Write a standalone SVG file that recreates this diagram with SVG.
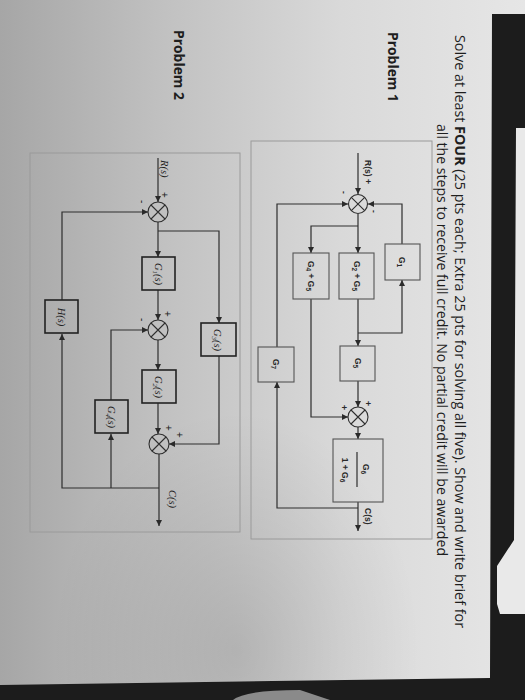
<svg xmlns="http://www.w3.org/2000/svg" width="525" height="700" viewBox="0 0 525 700">
<defs>
<linearGradient id="paper" x1="0" y1="0" x2="1" y2="0">
<stop offset="0" stop-color="#a6a6a6"/>
<stop offset="0.3" stop-color="#c0c0c0"/>
<stop offset="0.65" stop-color="#d9d9d9"/>
<stop offset="1" stop-color="#e6e6e6"/>
</linearGradient>
<radialGradient id="shade" cx="0.45" cy="0.95" r="0.35">
<stop offset="0" stop-color="#000" stop-opacity="0.12"/>
<stop offset="1" stop-color="#000" stop-opacity="0"/>
</radialGradient>
<marker id="ah" viewBox="0 0 10 10" refX="10" refY="5" markerWidth="6" markerHeight="6" markerUnits="userSpaceOnUse" orient="auto"><path d="M0,0 L10,5 L0,10 z" fill="#2a2a2a"/></marker>
<style>
.hdr{font-family:"Open Sans","DejaVu Sans",sans-serif;fill:#1e1e1e}
.frame{fill:none;stroke:#9a9a9a;stroke-width:1}
.ln{fill:none;stroke:#2e2e2e;stroke-width:1.2}
.blk1{fill:none;stroke:#555;stroke-width:1.1}
.blk2{fill:none;stroke:#222;stroke-width:1.6}
.sum{fill:none;stroke:#2e2e2e;stroke-width:1.1}
.t1{font-family:"Liberation Sans","DejaVu Sans",sans-serif;font-weight:bold;font-size:8.5px;fill:#2a2a2a}
.t2{font-family:"Liberation Serif","DejaVu Serif",serif;font-style:italic;font-size:10.5px;fill:#222}
.sg{font-family:"Liberation Sans",sans-serif;font-size:10px;fill:#222}
</style>
</defs>
<!-- background -->
<rect x="0" y="0" width="525" height="700" fill="#1c1c1c"/>
<polygon points="0,0 525,0 525,14 492,14 490,678 0,685" fill="url(#paper)"/>
<polygon points="0,0 525,0 525,14 492,14 490,678 0,685" fill="url(#shade)"/>
<polygon points="516,128 525,128 525,614 500,614 497,604 497,566 514,540" fill="#e9e9e9"/>
<path d="M233,700 Q245,690 300,690 L330,700 Z" fill="#8a8a8a"/>

<!-- header text -->
<text class="hdr" font-size="14.5" transform="translate(455,35) rotate(90)" textLength="593" lengthAdjust="spacingAndGlyphs">Solve at least <tspan font-weight="bold">FOUR</tspan> (25 pts each; Extra 25 pts for solving all five). Show and write brief for</text>
<text class="hdr" font-size="14.5" transform="translate(437,124) rotate(90)" textLength="432" lengthAdjust="spacingAndGlyphs">all the steps to receive full credit. No partial credit will be awarded</text>
<text class="hdr" font-size="15" font-weight="bold" transform="translate(388,32) rotate(90)" textLength="70" lengthAdjust="spacingAndGlyphs">Problem 1</text>
<text class="hdr" font-size="15" font-weight="bold" transform="translate(174,30) rotate(90)" textLength="70" lengthAdjust="spacingAndGlyphs">Problem 2</text>

<!-- frames -->
<rect class="frame" x="251" y="141" width="181" height="398"/>
<rect class="frame" x="30" y="153" width="210" height="379"/>

<!-- Problem 1 connectors -->
<g id="p1-connectors">
<path class="ln" d="M358,153 V194" marker-end="url(#ah)"/>
<path class="ln" d="M402,244 V204 H368" marker-end="url(#ah)"/>
<path class="ln" d="M277,347 V204 H348" marker-end="url(#ah)"/>
<path class="ln" d="M358,214 V253" marker-end="url(#ah)"/>
<path class="ln" d="M358,226 H311 V253" marker-end="url(#ah)"/>
<path class="ln" d="M358,299 V346" marker-end="url(#ah)"/>
<path class="ln" d="M358,333 H402 V280" marker-end="url(#ah)"/>
<path class="ln" d="M358,381 V407" marker-end="url(#ah)"/>
<path class="ln" d="M311,299 V417 H348" marker-end="url(#ah)"/>
<path class="ln" d="M358,427 V439" marker-end="url(#ah)"/>
<path class="ln" d="M358,502 V531" marker-end="url(#ah)"/>
<path class="ln" d="M358,508 H277 V382" marker-end="url(#ah)"/>
</g>

<!-- Problem 1 nodes -->
<g id="p1-R">
<text class="t1" transform="translate(365,160) rotate(90)">R(s) +</text>
</g>
<g id="p1-sum1">
<circle class="sum" cx="358" cy="204" r="9.5"/>
<path class="sum" d="M351.3,197.3 L364.7,210.7 M364.7,197.3 L351.3,210.7"/>
<text class="t1" transform="translate(371,210) rotate(90)">-</text>
<text class="t1" transform="translate(341,191) rotate(90)">-</text>
</g>
<g id="p1-G1">
<rect class="blk1" x="385" y="244" width="35" height="36"/>
<text class="t1" transform="translate(399,262) rotate(90)" text-anchor="middle">G<tspan font-size="6.5" dy="2.5">1</tspan></text>
</g>
<g id="p1-G2G5">
<rect class="blk1" x="339" y="253" width="35" height="46"/>
<text class="t1" transform="translate(354,276) rotate(90)" text-anchor="middle">G<tspan font-size="6.5" dy="2.5">2</tspan><tspan dy="-2.5"> + G</tspan><tspan font-size="6.5" dy="2.5">5</tspan></text>
</g>
<g id="p1-G4G5">
<rect class="blk1" x="293" y="253" width="36" height="46"/>
<text class="t1" transform="translate(308,276) rotate(90)" text-anchor="middle">G<tspan font-size="6.5" dy="2.5">4</tspan><tspan dy="-2.5"> + G</tspan><tspan font-size="6.5" dy="2.5">5</tspan></text>
</g>
<g id="p1-G5">
<rect class="blk1" x="340" y="346" width="35" height="35"/>
<text class="t1" transform="translate(355,363) rotate(90)" text-anchor="middle">G<tspan font-size="6.5" dy="2.5">5</tspan></text>
</g>
<g id="p1-G7">
<rect class="blk1" x="258" y="347" width="36" height="35"/>
<text class="t1" transform="translate(273,364) rotate(90)" text-anchor="middle">G<tspan font-size="6.5" dy="2.5">7</tspan></text>
</g>
<g id="p1-sum2">
<circle class="sum" cx="358" cy="417" r="10"/>
<path class="sum" d="M351,410 L365,424 M365,410 L351,424"/>
<text class="t1" transform="translate(365,401) rotate(90)">+</text>
<text class="t1" transform="translate(341,405) rotate(90)">+</text>
</g>
<g id="p1-G6">
<rect class="blk1" x="333" y="439" width="50" height="63"/>
<text class="t1" transform="translate(363,469) rotate(90)" text-anchor="middle">G<tspan font-size="6.5" dy="2.5">6</tspan></text>
<line class="ln" x1="357" y1="452" x2="357" y2="487"/>
<text class="t1" transform="translate(342,470) rotate(90)" text-anchor="middle">1 + G<tspan font-size="6.5" dy="2.5">6</tspan></text>
</g>
<g id="p1-C">
<text class="t1" transform="translate(365,508) rotate(90)">C(s)</text>
</g>

<!-- Problem 2 connectors -->
<g id="p2-connectors">
<path class="ln" d="M158,158 V202" marker-end="url(#ah)"/>
<path class="ln" d="M158,222 V257" marker-end="url(#ah)"/>
<path class="ln" d="M158,231 H219 V323" marker-end="url(#ah)"/>
<path class="ln" d="M158,290 V320" marker-end="url(#ah)"/>
<path class="ln" d="M158,340 V370" marker-end="url(#ah)"/>
<path class="ln" d="M158,403 V434" marker-end="url(#ah)"/>
<path class="ln" d="M219,356 V444 H169" marker-end="url(#ah)"/>
<path class="ln" d="M159,454 V526" marker-end="url(#ah)"/>
<path class="ln" d="M159,488 H62 V334" marker-end="url(#ah)"/>
<path class="ln" d="M62,300 V212 H148" marker-end="url(#ah)"/>
<path class="ln" d="M111,488 V434" marker-end="url(#ah)"/>
<path class="ln" d="M111,400 V330 H148" marker-end="url(#ah)"/>
</g>

<!-- Problem 2 nodes -->
<g id="p2-R">
<text class="t2" transform="translate(161,160) rotate(90)">R(s)</text>
</g>
<g id="p2-sum1">
<circle class="sum" cx="158" cy="212" r="10"/>
<path class="sum" d="M151,205 L165,219 M165,205 L151,219"/>
<text class="sg" transform="translate(161,192) rotate(90)">+</text>
<text class="sg" transform="translate(139,200) rotate(90)">-</text>
</g>
<g id="p2-G1">
<rect class="blk2" x="142" y="257" width="33" height="33"/>
<text class="t2" transform="translate(155,274) rotate(90)" text-anchor="middle">G<tspan font-size="7" dy="2">1</tspan><tspan dy="-2">(s)</tspan></text>
</g>
<g id="p2-sum2">
<circle class="sum" cx="158" cy="330" r="10"/>
<path class="sum" d="M151,323 L165,337 M165,323 L151,337"/>
<text class="sg" transform="translate(164,311) rotate(90)">+</text>
<text class="sg" transform="translate(139,318) rotate(90)">-</text>
</g>
<g id="p2-G2">
<rect class="blk2" x="142" y="370" width="34" height="33"/>
<text class="t2" transform="translate(155,387) rotate(90)" text-anchor="middle">G<tspan font-size="7" dy="2">2</tspan><tspan dy="-2">(s)</tspan></text>
</g>
<g id="p2-G3">
<rect class="blk2" x="201" y="323" width="35" height="33"/>
<text class="t2" transform="translate(214,340) rotate(90)" text-anchor="middle">G<tspan font-size="7" dy="2">3</tspan><tspan dy="-2">(s)</tspan></text>
</g>
<g id="p2-sum3">
<circle class="sum" cx="159" cy="444" r="10"/>
<path class="sum" d="M152,437 L166,451 M166,437 L152,451"/>
<text class="sg" transform="translate(165,425) rotate(90)">+</text>
<text class="sg" transform="translate(176,432) rotate(90)">+</text>
</g>
<g id="p2-G4">
<rect class="blk2" x="95" y="400" width="33" height="33"/>
<text class="t2" transform="translate(108,417) rotate(90)" text-anchor="middle">G<tspan font-size="7" dy="2">4</tspan><tspan dy="-2">(s)</tspan></text>
</g>
<g id="p2-H">
<rect class="blk2" x="45" y="300" width="33" height="33"/>
<text class="t2" transform="translate(58,317) rotate(90)" text-anchor="middle">H(s)</text>
</g>
<g id="p2-C">
<text class="t2" transform="translate(169,490) rotate(90)">C(s)</text>
</g>
</svg>
